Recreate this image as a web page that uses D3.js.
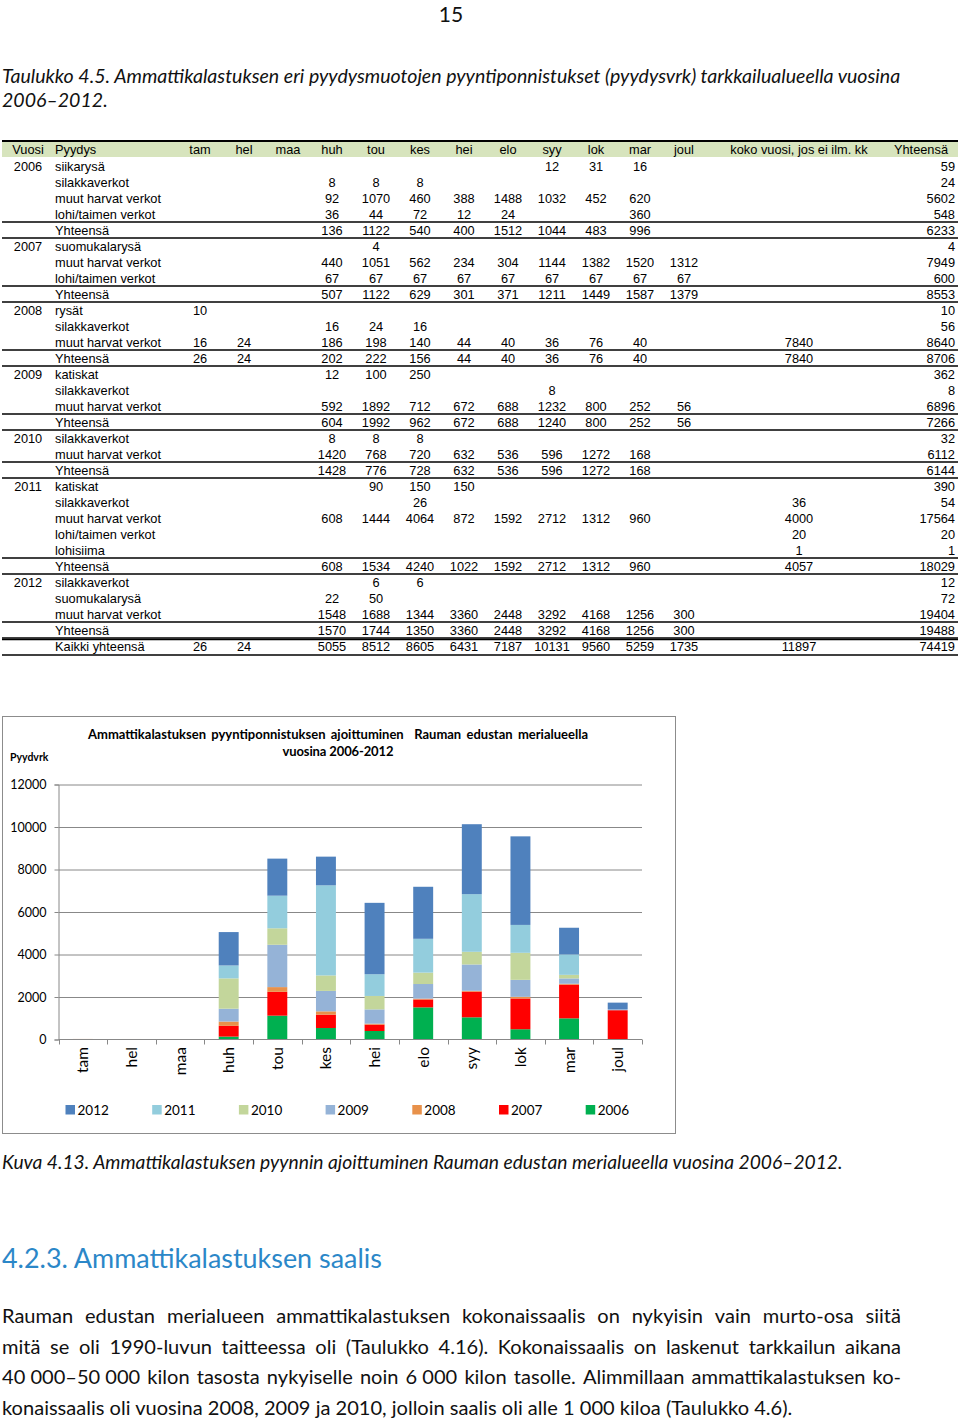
<!DOCTYPE html>
<html>
<head>
<meta charset="utf-8">
<script src="https://cdnjs.cloudflare.com/ajax/libs/d3/7.8.5/d3.min.js"></script>
<style>
  body { margin: 0; background: #fff; }
  svg { display: block; }
</style>
</head>
<body>
<div id="page"></div>
<script>
var _ = null;

// chart data (pyydysvrk per month, "Yhteensä" rows of the table)
var months = ["tam", "hel", "maa", "huh", "tou", "kes", "hei", "elo", "syy", "lok", "mar", "joul"];
var seriesYears = ["2006", "2007", "2008", "2009", "2010", "2011", "2012"];
var s2006 = [0, 0, 0, 136, 1122, 540, 400, 1512, 1044, 483, 996, 0];
var s2007 = [0, 0, 0, 507, 1122, 629, 301, 371, 1211, 1449, 1587, 1379];
var s2008 = [26, 24, 0, 202, 222, 156, 44, 40, 36, 76, 40, 0];
var s2009 = [0, 0, 0, 604, 1992, 962, 672, 688, 1240, 800, 252, 56];
var s2010 = [0, 0, 0, 1428, 776, 728, 632, 536, 596, 1272, 168, 0];
var s2011 = [0, 0, 0, 608, 1534, 4240, 1022, 1592, 2712, 1312, 960, 0];
var s2012 = [0, 0, 0, 1570, 1744, 1350, 3360, 2448, 3292, 4168, 1256, 300];
var yTicks = [0, 2000, 4000, 6000, 8000, 10000, 12000];
var legendYears = ["2012", "2011", "2010", "2009", "2008", "2007", "2006"];

// table data
var extraCols = ["koko vuosi, jos ei ilm. kk", "Yhteensä"];
var tableRows = [
  ["2006", "siikarysä",          [_, _, _, _, _, _, _, _, 12, 31, 16, _, _, 59]],
  ["",     "silakkaverkot",      [_, _, _, 8, 8, 8, _, _, _, _, _, _, _, 24]],
  ["",     "muut harvat verkot", [_, _, _, 92, 1070, 460, 388, 1488, 1032, 452, 620, _, _, 5602]],
  ["",     "lohi/taimen verkot", [_, _, _, 36, 44, 72, 12, 24, _, _, 360, _, _, 548]],
  ["",     "Yhteensä",           [_, _, _, 136, 1122, 540, 400, 1512, 1044, 483, 996, _, _, 6233]],
  ["2007", "suomukalarysä",      [_, _, _, _, 4, _, _, _, _, _, _, _, _, 4]],
  ["",     "muut harvat verkot", [_, _, _, 440, 1051, 562, 234, 304, 1144, 1382, 1520, 1312, _, 7949]],
  ["",     "lohi/taimen verkot", [_, _, _, 67, 67, 67, 67, 67, 67, 67, 67, 67, _, 600]],
  ["",     "Yhteensä",           [_, _, _, 507, 1122, 629, 301, 371, 1211, 1449, 1587, 1379, _, 8553]],
  ["2008", "rysät",              [10, _, _, _, _, _, _, _, _, _, _, _, _, 10]],
  ["",     "silakkaverkot",      [_, _, _, 16, 24, 16, _, _, _, _, _, _, _, 56]],
  ["",     "muut harvat verkot", [16, 24, _, 186, 198, 140, 44, 40, 36, 76, 40, _, 7840, 8640]],
  ["",     "Yhteensä",           [26, 24, _, 202, 222, 156, 44, 40, 36, 76, 40, _, 7840, 8706]],
  ["2009", "katiskat",           [_, _, _, 12, 100, 250, _, _, _, _, _, _, _, 362]],
  ["",     "silakkaverkot",      [_, _, _, _, _, _, _, _, 8, _, _, _, _, 8]],
  ["",     "muut harvat verkot", [_, _, _, 592, 1892, 712, 672, 688, 1232, 800, 252, 56, _, 6896]],
  ["",     "Yhteensä",           [_, _, _, 604, 1992, 962, 672, 688, 1240, 800, 252, 56, _, 7266]],
  ["2010", "silakkaverkot",      [_, _, _, 8, 8, 8, _, _, _, _, _, _, _, 32]],
  ["",     "muut harvat verkot", [_, _, _, 1420, 768, 720, 632, 536, 596, 1272, 168, _, _, 6112]],
  ["",     "Yhteensä",           [_, _, _, 1428, 776, 728, 632, 536, 596, 1272, 168, _, _, 6144]],
  ["2011", "katiskat",           [_, _, _, _, 90, 150, 150, _, _, _, _, _, _, 390]],
  ["",     "silakkaverkot",      [_, _, _, _, _, 26, _, _, _, _, _, _, 36, 54]],
  ["",     "muut harvat verkot", [_, _, _, 608, 1444, 4064, 872, 1592, 2712, 1312, 960, _, 4000, 17564]],
  ["",     "lohi/taimen verkot", [_, _, _, _, _, _, _, _, _, _, _, _, 20, 20]],
  ["",     "lohisiima",          [_, _, _, _, _, _, _, _, _, _, _, _, 1, 1]],
  ["",     "Yhteensä",           [_, _, _, 608, 1534, 4240, 1022, 1592, 2712, 1312, 960, _, 4057, 18029]],
  ["2012", "silakkaverkot",      [_, _, _, _, 6, 6, _, _, _, _, _, _, _, 12]],
  ["",     "suomukalarysä",      [_, _, _, 22, 50, _, _, _, _, _, _, _, _, 72]],
  ["",     "muut harvat verkot", [_, _, _, 1548, 1688, 1344, 3360, 2448, 3292, 4168, 1256, 300, _, 19404]],
  ["",     "Yhteensä",           [_, _, _, 1570, 1744, 1350, 3360, 2448, 3292, 4168, 1256, 300, _, 19488]],
  ["",     "Kaikki yhteensä",    [26, 24, _, 5055, 8512, 8605, 6431, 7187, 10131, 9560, 5259, 1735, 11897, 74419]]
];

var pageNumber = "15";
var tableCaption = ["Taulukko 4.5. Ammattikalastuksen eri pyydysmuotojen pyyntiponnistukset (pyydysvrk) tarkkailualueella vuosina", "2006–2012."];
var chartTitle = ["Ammattikalastuksen pyyntiponnistuksen ajoittuminen  Rauman edustan merialueella", "vuosina 2006-2012"];
var yLabel = "Pyydvrk";
var figCaption = "Kuva 4.13. Ammattikalastuksen pyynnin ajoittuminen Rauman edustan merialueella vuosina 2006–2012.";
var heading = "4.2.3. Ammattikalastuksen saalis";
var paragraph = [
  "Rauman edustan merialueen ammattikalastuksen kokonaissaalis on nykyisin vain murto-osa siitä",
  "mitä se oli 1990-luvun taitteessa oli (Taulukko 4.16). Kokonaissaalis on laskenut tarkkailun aikana",
  "40\u00A0000–50\u00A0000 kilon tasosta nykyiselle noin 6\u00A0000 kilon tasolle. Alimmillaan ammattikalastuksen ko-",
  "konaissaalis oli vuosina 2008, 2009 ja 2010, jolloin saalis oli alle 1\u00A0000 kiloa (Taulukko 4.6)."
];

var W = 960, H = 1423;
var svg = d3.select("#page").append("svg").attr("width", W).attr("height", H);
svg.append("rect").attr("width", W).attr("height", H).attr("fill", "#fff");

var docFont = "Lato, 'Open Sans', sans-serif";
var tabFont = "'Liberation Sans', Arial, sans-serif";

// font size at which a string, set normally, runs the given width
function sizeFor(str, width, extra) {
  var t = svg.append("text").attr("font-family", docFont).attr("font-size", 20);
  if (extra) extra(t);
  t.text(str);
  var s = 20 * width / t.node().getComputedTextLength();
  t.remove();
  return s;
}

// plain text line at a given size
function plainLine(g, str, x0, y, size, extra) {
  var t = g.append("text").attr("x", x0).attr("y", y)
    .attr("font-family", docFont).attr("font-size", size);
  if (extra) extra(t);
  return t.text(str);
}

// words of a line spread from x0 to x1 (justified), one text per word
function fitLine(g, str, x0, x1, y, size, extra) {
  var words = str.split(" ");
  var line = g.append("g").attr("font-family", docFont).attr("font-size", size);
  if (extra) extra(line);
  var ws = line.selectAll("text").data(words).join("text").attr("y", y).text(function(d) { return d; });
  var widths = ws.nodes().map(function(n) { return n.getComputedTextLength(); });
  var gap = words.length > 1 ? (x1 - x0 - d3.sum(widths)) / (words.length - 1) : 0;
  var x = x0;
  ws.attr("x", function(d, i) { var xi = x; x += widths[i] + gap; return xi; });
  return line;
}

// page number
svg.append("text").attr("x", 451).attr("y", 22).attr("text-anchor", "middle")
  .attr("font-family", docFont).attr("font-size", 21).attr("fill", "#111").text(pageNumber);

// table caption
var italic = function(t) { t.attr("font-style", "italic").attr("fill", "#111"); };
var capSize = sizeFor(tableCaption[0], 899, italic);
plainLine(svg, tableCaption[0], 2, 83, capSize, italic);
plainLine(svg, tableCaption[1], 2, 107, capSize, italic);

// ---------- table ----------
var tab = svg.append("g").attr("font-family", tabFont).attr("font-size", 12.8).attr("fill", "#000");
var colX = d3.scalePoint().domain(months).range([200, 684]);
var kokoX = 799, sumX = 955;
var rowY = function(i) { return 166 + i * 16; };

tab.append("rect").attr("x", 2).attr("y", 141).attr("width", 956).attr("height", 16).attr("fill", "#d7e4bd");
tab.append("line").attr("x1", 2).attr("x2", 958).attr("y1", 141).attr("y2", 141)
  .attr("stroke", "#000").attr("stroke-width", 2);

var headY = 153.5;
tab.append("text").attr("x", 28).attr("y", headY).attr("text-anchor", "middle").text("Vuosi");
tab.append("text").attr("x", 55).attr("y", headY).text("Pyydys");
tab.selectAll("text.mh").data(months).join("text").attr("class", "mh")
  .attr("x", function(d) { return colX(d); }).attr("y", headY).attr("text-anchor", "middle")
  .text(function(d) { return d; });
tab.append("text").attr("x", kokoX).attr("y", headY).attr("text-anchor", "middle").text(extraCols[0]);
tab.append("text").attr("x", 948).attr("y", headY).attr("text-anchor", "end").text(extraCols[1]);

var rows = tab.selectAll("g.row").data(tableRows).join("g").attr("class", "row")
  .attr("transform", function(d, i) { return "translate(0," + rowY(i) + ")"; });
rows.append("text").attr("x", 28).attr("y", 5).attr("text-anchor", "middle").text(function(d) { return d[0]; });
rows.append("text").attr("x", 55).attr("y", 5).text(function(d) { return d[1]; });
rows.each(function(d) {
  var g = d3.select(this);
  var cells = d[2].map(function(v, j) { return { v: v, j: j }; }).filter(function(c) { return c.v !== null; });
  g.selectAll("text.v").data(cells).join("text").attr("class", "v")
    .attr("y", 5)
    .attr("x", function(c) { return c.j < 12 ? colX(months[c.j]) : (c.j === 12 ? kokoX : sumX); })
    .attr("text-anchor", function(c) { return c.j === 13 ? "end" : "middle"; })
    .text(function(c) { return c.v; });
});

// rules around subtotal rows
tableRows.forEach(function(r, i) {
  var top = rowY(i) - 8, bot = rowY(i) + 8;
  if (r[1] === "Yhteensä") {
    [top, bot].forEach(function(y) {
      tab.append("line").attr("x1", 2).attr("x2", 958).attr("y1", y).attr("y2", y)
        .attr("stroke", "#000").attr("stroke-width", 1.6);
    });
  }
  if (r[1] === "Kaikki yhteensä") {
    [top + 1.5, bot + 1].forEach(function(y) {
      tab.append("line").attr("x1", 2).attr("x2", 958).attr("y1", y).attr("y2", y)
        .attr("stroke", "#000").attr("stroke-width", 1.6);
    });
  }
});

// ---------- chart ----------
var colors = { "2006": "#00b050", "2007": "#ff0000", "2008": "#e8914a", "2009": "#95b3d7",
               "2010": "#c3d69b", "2011": "#93cddd", "2012": "#4f81bd" };
var seriesData = { "2006": s2006, "2007": s2007, "2008": s2008, "2009": s2009,
                   "2010": s2010, "2011": s2011, "2012": s2012 };
var monthRows = months.map(function(m, i) {
  var o = { month: m };
  seriesYears.forEach(function(y) { o[y] = seriesData[y][i]; });
  return o;
});

var chart = svg.append("g");
chart.append("rect").attr("x", 2.5).attr("y", 716.5).attr("width", 673).attr("height", 417)
  .attr("fill", "#fff").attr("stroke", "#8c8c8c");

var x = d3.scaleBand().domain(months).range([58.5, 642]).paddingInner(0.59).paddingOuter(0.295);
var y = d3.scaleLinear().domain([0, 12000]).range([1039.5, 784.5]);

// gridlines
chart.append("g").attr("transform", "translate(58.5,0)")
  .call(d3.axisLeft(y).tickValues(yTicks.slice(1)).tickSize(-583.5).tickFormat(""))
  .call(function(g) {
    g.select(".domain").remove();
    g.selectAll("line").attr("stroke", "#888");
  });

// y axis with labels
chart.append("g").attr("transform", "translate(58.5,0)")
  .call(d3.axisLeft(y).tickValues(yTicks).tickSize(4).tickPadding(8).tickFormat(d3.format("d")))
  .call(function(g) {
    g.select(".domain").attr("stroke", "#888");
    g.selectAll("line").attr("stroke", "#888");
    g.selectAll("text").attr("font-family", docFont).attr("font-size", 12.5).attr("fill", "#000");
  });

// stacked bars
var stack = d3.stack().keys(seriesYears);
chart.append("g").selectAll("g").data(stack(monthRows)).join("g")
  .attr("fill", function(d) { return colors[d.key]; })
  .selectAll("rect").data(function(d) { return d; }).join("rect")
  .attr("x", function(d) { return x(d.data.month); })
  .attr("width", x.bandwidth())
  .attr("y", function(d) { return y(d[1]); })
  .attr("height", function(d) { return y(d[0]) - y(d[1]); });

// x axis: baseline and category boundary ticks
var bounds = months.map(function(m) { return x(m) - (x.step() - x.bandwidth()) / 2; }).concat([642]);
chart.append("line").attr("x1", 58.5).attr("x2", 642).attr("y1", y(0)).attr("y2", y(0)).attr("stroke", "#888");
chart.append("g").selectAll("line").data(bounds).join("line")
  .attr("x1", function(d) { return Math.round(d) + 0.5; }).attr("x2", function(d) { return Math.round(d) + 0.5; })
  .attr("y1", y(0)).attr("y2", y(0) + 5).attr("stroke", "#888");
chart.append("g").selectAll("text").data(months).join("text")
  .attr("transform", function(d) { return "translate(" + (x(d) + x.bandwidth() / 2) + ",1047) rotate(-90)"; })
  .attr("dy", "0.35em").attr("text-anchor", "end")
  .attr("font-family", docFont).attr("font-size", 15.5).attr("fill", "#000")
  .text(function(d) { return d; });

// title and y label
var bold = function(t) { t.attr("font-weight", "bold").attr("fill", "#000"); };
var titleSize = Math.min(13, sizeFor(chartTitle[0], 500, bold));
fitLine(chart, chartTitle[0], 88, 588, 739, titleSize, bold);
chart.append("text").attr("x", 338).attr("y", 756).attr("text-anchor", "middle")
  .attr("font-family", docFont).attr("font-size", titleSize).attr("font-weight", "bold")
  .attr("textLength", 111).attr("lengthAdjust", "spacing").text(chartTitle[1]);
chart.append("text").attr("x", 10).attr("y", 761)
  .attr("font-family", docFont).attr("font-size", 10.5).attr("font-weight", "bold").text(yLabel);

// legend
var lg = chart.append("g").selectAll("g").data(legendYears).join("g")
  .attr("transform", function(d, i) { return "translate(" + (65.5 + i * 86.7) + ",1105)"; });
lg.append("rect").attr("width", 9.5).attr("height", 9.5).attr("fill", function(d) { return colors[d]; });
lg.append("text").attr("x", 12).attr("y", 9.5)
  .attr("font-family", docFont).attr("font-size", 13.5).attr("fill", "#000")
  .text(function(d) { return d; });

// figure caption, heading, paragraph
plainLine(svg, figCaption, 2, 1169, sizeFor(figCaption, 841, italic), italic);
plainLine(svg, heading, 2, 1268, sizeFor(heading, 380), function(t) { t.attr("fill", "#2b87c8"); });

var dark = function(t) { t.attr("fill", "#111"); };
var last = paragraph.length - 1;
var paraSize = d3.min(paragraph, function(line, i) { return sizeFor(line, i < last ? 899 : 791); });
paragraph.forEach(function(line, i) {
  var yy = 1323 + i * 30.6;
  if (i < last) fitLine(svg, line, 2, 901, yy, paraSize, dark);
  else plainLine(svg, line, 2, yy, paraSize, dark);
});
</script>
</body>
</html>
